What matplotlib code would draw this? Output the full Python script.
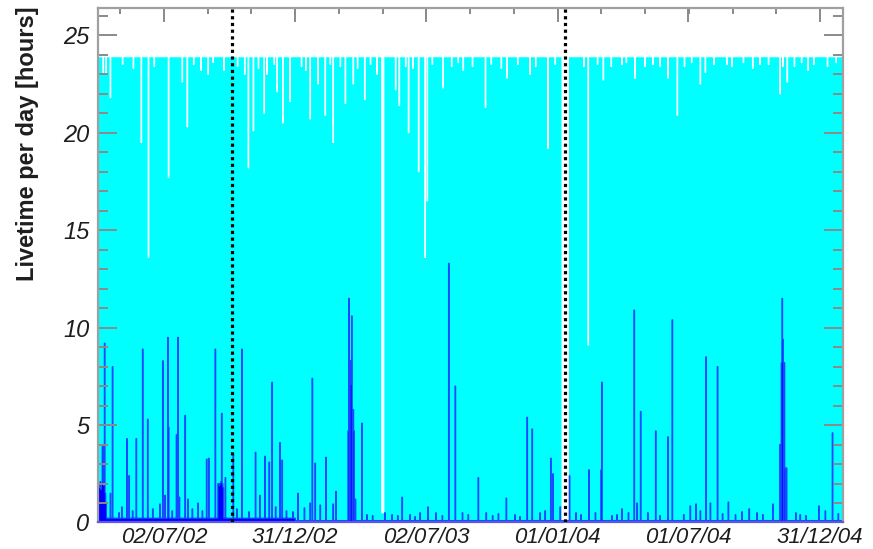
import numpy as np
import pandas as pd
import matplotlib
matplotlib.use("Agg")
import matplotlib.pyplot as plt
import matplotlib.dates as mdates

# one bin per day
first_day = "2002-04-01"
last_day = "2005-01-31"

# livetime of a complete day [hours]
full_day_hours = 23.9

# days with less than a full day of livetime (total, cyan)
livetime_dips = [
    ("2002-04-08", 23.1), ("2002-04-12", 23.0), ("2002-04-18", 21.8),
    ("2002-05-05", 23.5), ("2002-05-20", 23.3), ("2002-05-31", 19.5),
    ("2002-06-10", 13.6), ("2002-06-18", 23.4), ("2002-07-08", 17.7),
    ("2002-07-27", 22.6), ("2002-08-03", 20.3), ("2002-08-12", 23.5),
    ("2002-08-22", 23.2), ("2002-09-01", 23.0), ("2002-09-08", 23.6),
    ("2002-09-23", 23.2), ("2002-10-12", 23.4), ("2002-10-22", 23.0),
    ("2002-10-27", 18.2), ("2002-11-03", 20.1), ("2002-11-10", 23.3),
    ("2002-11-18", 21.0), ("2002-11-22", 23.0), ("2002-12-02", 23.5),
    ("2002-12-06", 22.1), ("2002-12-14", 20.5), ("2002-12-24", 21.6),
    ("2003-01-09", 23.4), ("2003-01-15", 23.2), ("2003-01-21", 20.7),
    ("2003-02-01", 22.5), ("2003-02-11", 20.9), ("2003-02-18", 23.5),
    ("2003-02-22", 19.5), ("2003-03-04", 23.4), ("2003-03-11", 21.5),
    ("2003-03-22", 22.5), ("2003-03-28", 23.3), ("2003-04-07", 21.7),
    ("2003-04-15", 23.5), ("2003-04-24", 23.0), ("2003-05-20", 22.2),
    ("2003-05-25", 21.4), ("2003-06-03", 23.4), ("2003-06-07", 20.0),
    ("2003-06-13", 23.3), ("2003-06-21", 18.0), ("2003-06-30", 13.6),
    ("2003-07-03", 16.5), ("2003-07-10", 23.5), ("2003-07-25", 22.3),
    ("2003-08-06", 23.4), ("2003-08-15", 23.6), ("2003-08-22", 23.2),
    ("2003-09-04", 23.4), ("2003-09-22", 21.3), ("2003-09-30", 23.5),
    ("2003-10-14", 23.3), ("2003-10-22", 22.8), ("2003-11-06", 23.5),
    ("2003-11-23", 23.0), ("2003-12-01", 23.4), ("2003-12-18", 19.2),
    ("2003-12-28", 23.5), ("2004-02-06", 23.4), ("2004-02-12", 9.1),
    ("2004-02-25", 23.5), ("2004-03-04", 22.7), ("2004-03-15", 23.4),
    ("2004-03-30", 23.5), ("2004-04-05", 23.6), ("2004-04-17", 22.8),
    ("2004-05-01", 23.4), ("2004-05-12", 23.5), ("2004-05-22", 23.4),
    ("2004-06-02", 22.8), ("2004-06-15", 20.9), ("2004-06-25", 23.4),
    ("2004-07-05", 23.6), ("2004-07-17", 22.5), ("2004-07-24", 23.1),
    ("2004-08-05", 23.5), ("2004-08-23", 23.5), ("2004-08-30", 23.4),
    ("2004-09-15", 23.6), ("2004-09-28", 23.3), ("2004-10-08", 23.5),
    ("2004-10-20", 23.5), ("2004-11-05", 22.0), ("2004-11-09", 23.4),
    ("2004-11-15", 22.6), ("2004-11-25", 23.4), ("2004-12-05", 23.6),
    ("2004-12-14", 23.2), ("2004-12-22", 23.5), ("2005-01-10", 23.4),
    ("2005-01-22", 23.6),
]

# stretches with (almost) no data taking
outages = [
    ("2003-05-01", "2003-05-03", 0.5),
    ("2004-01-07", "2004-01-15", 0.0),
]

# second livetime histogram (blue): usual low level ...
blue_levels = [
    ("2002-04-01", "2002-12-31", 0.22),
    ("2003-01-01", "2005-01-31", 0.1),
]

# ... and the days where it rises above that
blue_days = [
    ("2002-04-01", 1.9), ("2002-04-02", 2.0), ("2002-04-03", 1.8),
    ("2002-04-04", 2.1), ("2002-04-05", 1.7), ("2002-04-06", 2.0),
    ("2002-04-07", 3.9), ("2002-04-08", 4.0), ("2002-04-09", 1.9),
    ("2002-04-10", 9.2), ("2002-04-11", 1.5), ("2002-04-12", 1.0),
    ("2002-04-18", 1.5), ("2002-04-21", 8.0), ("2002-04-30", 0.5),
    ("2002-05-04", 0.8), ("2002-05-11", 4.3), ("2002-05-14", 2.4),
    ("2002-05-19", 0.6), ("2002-05-24", 4.3), ("2002-06-02", 8.9),
    ("2002-06-09", 5.3), ("2002-06-16", 0.7), ("2002-06-26", 0.95),
    ("2002-06-30", 8.3), ("2002-07-03", 1.4), ("2002-07-07", 9.5),
    ("2002-07-08", 4.9), ("2002-07-13", 0.6), ("2002-07-19", 4.5),
    ("2002-07-21", 9.5), ("2002-07-23", 1.3), ("2002-07-31", 5.5),
    ("2002-08-04", 1.2), ("2002-08-10", 0.7), ("2002-08-18", 1.0),
    ("2002-08-24", 0.6), ("2002-08-30", 3.25), ("2002-09-02", 3.3),
    ("2002-09-11", 8.9), ("2002-09-15", 2.0), ("2002-09-16", 2.0),
    ("2002-09-17", 1.9), ("2002-09-18", 2.0), ("2002-09-19", 2.1),
    ("2002-09-20", 5.6), ("2002-09-21", 2.0), ("2002-09-22", 1.8),
    ("2002-09-25", 2.3), ("2002-10-06", 3.5), ("2002-10-11", 0.7),
    ("2002-10-18", 8.9), ("2002-10-28", 0.55), ("2002-11-06", 3.6),
    ("2002-11-12", 1.4), ("2002-11-19", 3.4), ("2002-11-25", 3.1),
    ("2002-11-29", 7.2), ("2002-12-04", 0.8), ("2002-12-10", 4.1),
    ("2002-12-13", 3.2), ("2002-12-19", 0.6), ("2002-12-28", 0.55),
    ("2003-01-04", 1.5), ("2003-01-13", 0.75), ("2003-01-21", 1.0),
    ("2003-01-24", 7.4), ("2003-01-28", 3.05), ("2003-02-04", 0.9),
    ("2003-02-12", 3.35), ("2003-02-22", 0.95), ("2003-02-26", 1.6),
    ("2003-03-15", 4.7), ("2003-03-16", 11.5), ("2003-03-18", 8.3),
    ("2003-03-19", 7.1), ("2003-03-20", 10.6), ("2003-03-22", 5.8),
    ("2003-03-23", 4.7), ("2003-03-25", 1.2), ("2003-04-03", 5.1),
    ("2003-04-10", 0.4), ("2003-04-18", 0.35),
    ("2003-05-05", 0.5), ("2003-05-15", 0.4), ("2003-05-23", 0.35),
    ("2003-05-29", 1.3), ("2003-06-09", 0.4), ("2003-06-16", 0.3),
    ("2003-06-23", 0.5), ("2003-07-04", 0.8), ("2003-07-15", 0.5),
    ("2003-07-24", 0.35), ("2003-08-02", 13.3), ("2003-08-11", 7.0),
    ("2003-08-21", 0.5), ("2003-08-29", 0.4), ("2003-09-12", 2.3),
    ("2003-09-23", 0.5), ("2003-10-02", 0.35), ("2003-10-10", 0.45),
    ("2003-10-21", 1.25), ("2003-11-02", 0.4), ("2003-11-09", 0.3),
    ("2003-11-19", 5.4), ("2003-11-26", 4.8), ("2003-12-07", 0.5),
    ("2003-12-14", 0.6), ("2003-12-22", 3.3), ("2003-12-25", 2.5),
    ("2004-01-04", 0.8), ("2004-01-17", 2.4), ("2004-01-26", 0.5),
    ("2004-02-02", 0.4), ("2004-02-13", 2.7), ("2004-02-22", 0.5),
    ("2004-03-01", 2.7), ("2004-03-02", 7.2), ("2004-03-16", 0.35),
    ("2004-03-23", 0.4), ("2004-03-30", 0.7), ("2004-04-08", 0.5),
    ("2004-04-16", 10.9), ("2004-04-20", 1.0), ("2004-04-25", 5.7),
    ("2004-05-05", 0.5), ("2004-05-16", 4.7), ("2004-05-22", 0.35),
    ("2004-06-02", 4.4), ("2004-06-08", 10.4), ("2004-06-24", 0.4),
    ("2004-07-03", 0.85), ("2004-07-11", 0.95), ("2004-07-17", 0.6),
    ("2004-07-25", 8.5), ("2004-07-31", 1.0), ("2004-08-10", 8.0),
    ("2004-08-17", 0.45), ("2004-08-25", 1.05), ("2004-09-04", 0.4),
    ("2004-09-13", 0.55), ("2004-09-23", 0.7), ("2004-10-04", 0.5),
    ("2004-10-12", 0.4), ("2004-10-26", 0.95), ("2004-11-05", 4.0),
    ("2004-11-07", 8.2), ("2004-11-08", 11.5), ("2004-11-09", 9.4),
    ("2004-11-11", 8.2), ("2004-11-12", 2.8), ("2004-11-14", 2.8),
    ("2004-11-27", 0.5), ("2004-12-03", 0.4), ("2004-12-11", 0.35),
    ("2004-12-29", 0.85), ("2005-01-07", 0.6), ("2005-01-17", 4.6),
    ("2005-01-25", 0.45),
]

# run period boundaries
boundaries = ["2002-10-05", "2004-01-11"]

tick_dates = ["2002-07-02", "2002-12-31", "2003-07-02",
              "2004-01-01", "2004-07-01", "2004-12-31"]
tick_labels = ["02/07/02", "31/12/02", "02/07/03",
               "01/01/04", "01/07/04", "31/12/04"]


def main():
    days = pd.date_range(first_day, last_day, freq="D")
    edges = mdates.date2num(pd.date_range(first_day, periods=len(days) + 1, freq="D"))

    total = np.full(len(days), full_day_hours)
    for d, h in livetime_dips:
        total[days.get_loc(pd.Timestamp(d))] = h
    for start, stop, h in outages:
        total[(days >= start) & (days <= stop)] = h

    blue = np.zeros(len(days))
    for start, stop, h in blue_levels:
        blue[(days >= start) & (days <= stop)] = h
    for d, h in blue_days:
        blue[days.get_loc(pd.Timestamp(d))] = h

    plt.rcParams["font.family"] = ["Liberation Sans", "DejaVu Sans"]

    fig = plt.figure(figsize=(8.73, 5.49), dpi=100)
    ax = fig.add_axes([0.1121, 0.0483, 0.8535, 0.9371])

    # bins are narrower than a pixel: outline them so single days stay visible
    ax.stairs(total, edges, baseline=0, fill=True, color="#00ffff", lw=0)
    ax.stairs(total, edges, baseline=None, color="white", lw=0.75)
    ax.stairs(blue, edges, baseline=0, fill=True, facecolor="#0000ff",
              edgecolor="#1848ff", lw=0.8)

    for b in boundaries:
        ax.axvline(mdates.date2num(pd.Timestamp(b)), color="black",
                   lw=2.3, ls=(0, (1, 1.1)), zorder=3)

    ax.set_xlim(edges[0], mdates.date2num(pd.Timestamp("2005-02-01")))
    ax.set_ylim(0, 26.4)

    # time axis: labelled every half year, two minor ticks in between
    major = mdates.date2num(pd.to_datetime(tick_dates))
    step = np.diff(major).mean() / 3
    minor = np.arange(major[0] - step, ax.get_xlim()[1], step)
    ax.set_xticks(major)
    ax.set_xticklabels(tick_labels)
    ax.set_xticks(minor, minor=True)
    ax.set_yticks(np.arange(0, 26, 5))
    ax.set_yticks(np.arange(0, 27, 1), minor=True)

    tick_col = "#8a8a8a"
    ax.tick_params(axis="x", which="both", direction="in", top=True,
                   bottom=False, color=tick_col, width=1.4, pad=3,
                   labelsize=16, labelcolor="#1e1e1e")
    ax.tick_params(axis="x", which="major", length=10)
    ax.tick_params(axis="x", which="minor", length=4.5)
    ax.tick_params(axis="y", which="both", direction="in", left=True,
                   right=True, color=tick_col, width=1.4, pad=6,
                   labelsize=17, labelcolor="#1e1e1e")
    ax.tick_params(axis="y", which="major", length=14)
    ax.tick_params(axis="y", which="minor", length=7)
    for lab in ax.get_xticklabels() + ax.get_yticklabels():
        lab.set_fontstyle("italic")

    for side in ("left", "top", "right"):
        ax.spines[side].set_color("#a0a0a0")
        ax.spines[side].set_linewidth(1.6)
    ax.spines["bottom"].set_color("#5a5ae0")
    ax.spines["bottom"].set_linewidth(1.6)

    fig.text(28 / 873, 1 - 144 / 549, "Livetime per day [hours]",
             rotation=90, ha="center", va="center", fontsize=17,
             fontweight="bold", color="#1e1e1e")

    fig.savefig("out.png", dpi=100)


if __name__ == "__main__":
    main()
